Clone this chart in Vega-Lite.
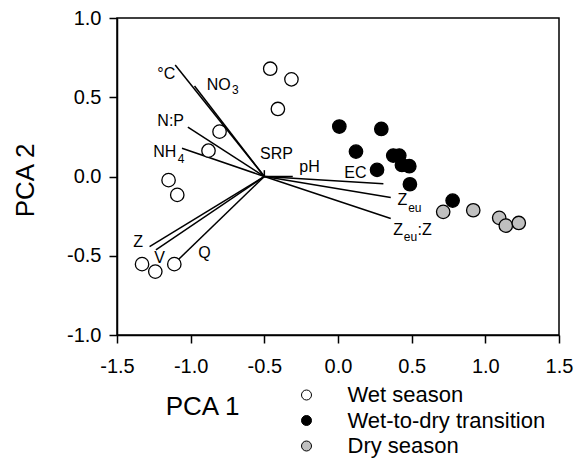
{
  "$schema": "https://vega.github.io/schema/vega-lite/v6.json",
  "width": 442,
  "height": 317,
  "autosize": {"type": "none"},
  "padding": {"left": 117, "top": 18, "right": 26, "bottom": 124},
  "background": "white",
  "config": {
    "font": "Liberation Sans",
    "view": {"stroke": "black", "strokeWidth": 1.5},
    "axis": {
      "grid": false,
      "labelFont": "Liberation Sans",
      "labelFontSize": 20,
      "labelColor": "black",
      "labelOverlap": false,
      "labelBound": false,
      "labelFlush": false,
      "labelExpr": "replace(datum.label, '−', '-')",
      "tickSize": 8,
      "tickColor": "black",
      "tickWidth": 1.5,
      "domainColor": "black",
      "domainWidth": 1.5,
      "titleFont": "Liberation Sans",
      "titleFontSize": 26,
      "titleFontWeight": "normal",
      "titleColor": "black"
    }
  },
  "datasets": {
    "points": [
      {"x": -0.46, "y": 0.68, "season": "Wet season"},
      {"x": -0.316, "y": 0.613, "season": "Wet season"},
      {"x": -0.408, "y": 0.426, "season": "Wet season"},
      {"x": -0.804, "y": 0.283, "season": "Wet season"},
      {"x": -0.879, "y": 0.163, "season": "Wet season"},
      {"x": -1.15, "y": -0.023, "season": "Wet season"},
      {"x": -1.091, "y": -0.116, "season": "Wet season"},
      {"x": -1.33, "y": -0.553, "season": "Wet season"},
      {"x": -1.24, "y": -0.6, "season": "Wet season"},
      {"x": -1.111, "y": -0.553, "season": "Wet season"},
      {"x": 0.009, "y": 0.315, "season": "Wet-to-dry transition"},
      {"x": 0.294, "y": 0.3, "season": "Wet-to-dry transition"},
      {"x": 0.122, "y": 0.157, "season": "Wet-to-dry transition"},
      {"x": 0.375, "y": 0.132, "season": "Wet-to-dry transition"},
      {"x": 0.416, "y": 0.132, "season": "Wet-to-dry transition"},
      {"x": 0.434, "y": 0.073, "season": "Wet-to-dry transition"},
      {"x": 0.484, "y": 0.065, "season": "Wet-to-dry transition"},
      {"x": 0.265, "y": 0.042, "season": "Wet-to-dry transition"},
      {"x": 0.488, "y": -0.049, "season": "Wet-to-dry transition"},
      {"x": 0.778, "y": -0.152, "season": "Wet-to-dry transition"},
      {"x": 0.714, "y": -0.223, "season": "Dry season"},
      {"x": 0.918, "y": -0.213, "season": "Dry season"},
      {"x": 1.094, "y": -0.261, "season": "Dry season"},
      {"x": 1.139, "y": -0.31, "season": "Dry season"},
      {"x": 1.227, "y": -0.293, "season": "Dry season"}
    ],
    "vectors": [
      {"var": "°C", "x": -0.5, "y": 0, "xe": -1.105, "ye": 0.704},
      {"var": "NO3", "x": -0.5, "y": 0, "xe": -0.974, "ye": 0.571},
      {"var": "N:P", "x": -0.5, "y": 0, "xe": -1.019, "ye": 0.311},
      {"var": "NH4", "x": -0.5, "y": 0, "xe": -1.059, "ye": 0.178},
      {"var": "SRP", "x": -0.5, "y": 0, "xe": -0.5, "ye": 0.04},
      {"var": "pH", "x": -0.5, "y": 0, "xe": -0.307, "ye": 0.0},
      {"var": "EC", "x": -0.5, "y": 0, "xe": 0.308, "ye": -0.046},
      {"var": "Zeu", "x": -0.5, "y": 0, "xe": 0.358, "ye": -0.133},
      {"var": "Zeu:Z", "x": -0.5, "y": 0, "xe": 0.358, "ye": -0.265},
      {"var": "Z", "x": -0.5, "y": 0, "xe": -1.279, "ye": -0.442},
      {"var": "V", "x": -0.5, "y": 0, "xe": -1.236, "ye": -0.463},
      {"var": "Q", "x": -0.5, "y": 0, "xe": -1.139, "ye": -0.574}
    ],
    "labels": [
      {"label": "°C", "x": -1.226, "y": 0.645},
      {"label": "NO", "x": -0.891, "y": 0.577},
      {"label": "N:P", "x": -1.226, "y": 0.348},
      {"label": "NH", "x": -1.254, "y": 0.156},
      {"label": "SRP", "x": -0.529, "y": 0.142},
      {"label": "pH", "x": -0.263, "y": 0.06},
      {"label": "EC", "x": 0.043, "y": 0.024},
      {"label": "Z", "x": 0.403, "y": -0.15},
      {"label": "Z", "x": 0.375, "y": -0.338},
      {"label": ":Z", "x": 0.54, "y": -0.338},
      {"label": "Z", "x": -1.389, "y": -0.411},
      {"label": "V", "x": -1.247, "y": -0.516},
      {"label": "Q", "x": -0.948, "y": -0.481}
    ],
    "subs": [
      {"label": "3", "x": -0.72, "y": 0.546},
      {"label": "4", "x": -1.088, "y": 0.112},
      {"label": "eu", "x": 0.476, "y": -0.199},
      {"label": "eu", "x": 0.446, "y": -0.382}
    ]
  },
  "encoding": {
    "x": {
      "field": "x",
      "type": "quantitative",
      "scale": {"domain": [-1.5, 1.5], "nice": false, "zero": false},
      "axis": {
        "values": [-1.5, -1, -0.5, 0, 0.5, 1, 1.5],
        "format": ".1f",
        "labelPadding": 13,
        "title": "PCA 1",
        "titleX": 85,
        "titleY": 71,
        "titleAlign": "center",
        "titleBaseline": "middle"
      }
    },
    "y": {
      "field": "y",
      "type": "quantitative",
      "scale": {"domain": [-1, 1], "nice": false, "zero": false},
      "axis": {
        "values": [-1, -0.5, 0, 0.5, 1],
        "format": ".1f",
        "labelPadding": 8,
        "title": "PCA 2",
        "titleAngle": -90,
        "titleX": -92,
        "titleY": 162,
        "titleAlign": "center",
        "titleBaseline": "middle"
      }
    }
  },
  "layer": [
    {
      "data": {"name": "vectors"},
      "mark": {"type": "rule", "color": "black", "strokeWidth": 1.5},
      "encoding": {
        "x2": {"field": "xe"},
        "y2": {"field": "ye"}
      }
    },
    {
      "data": {"name": "points"},
      "mark": {"type": "point", "shape": "circle", "filled": true, "size": 180, "stroke": "black", "strokeWidth": 1.3, "opacity": 1},
      "encoding": {
        "fill": {
          "field": "season",
          "type": "nominal",
          "scale": {
            "domain": ["Wet season", "Wet-to-dry transition", "Dry season"],
            "range": ["white", "black", "#c0c0c0"]
          },
          "legend": {
            "orient": "none",
            "legendX": 178.5,
            "legendY": 366,
            "title": null,
            "padding": 0,
            "symbolType": "circle",
            "symbolSize": 100,
            "symbolStrokeColor": "black",
            "symbolStrokeWidth": 1,
            "labelFont": "Liberation Sans",
            "labelFontSize": 22,
            "labelColor": "black",
            "labelLimit": 0,
            "labelOffset": 30,
            "rowPadding": 3.5
          }
        }
      }
    },
    {
      "data": {"name": "labels"},
      "mark": {"type": "text", "align": "left", "baseline": "middle", "fontSize": 16, "font": "Liberation Sans", "color": "black"},
      "encoding": {"text": {"field": "label"}}
    },
    {
      "data": {"name": "subs"},
      "mark": {"type": "text", "align": "left", "baseline": "middle", "fontSize": 12, "font": "Liberation Sans", "color": "black"},
      "encoding": {"text": {"field": "label"}}
    }
  ]
}
